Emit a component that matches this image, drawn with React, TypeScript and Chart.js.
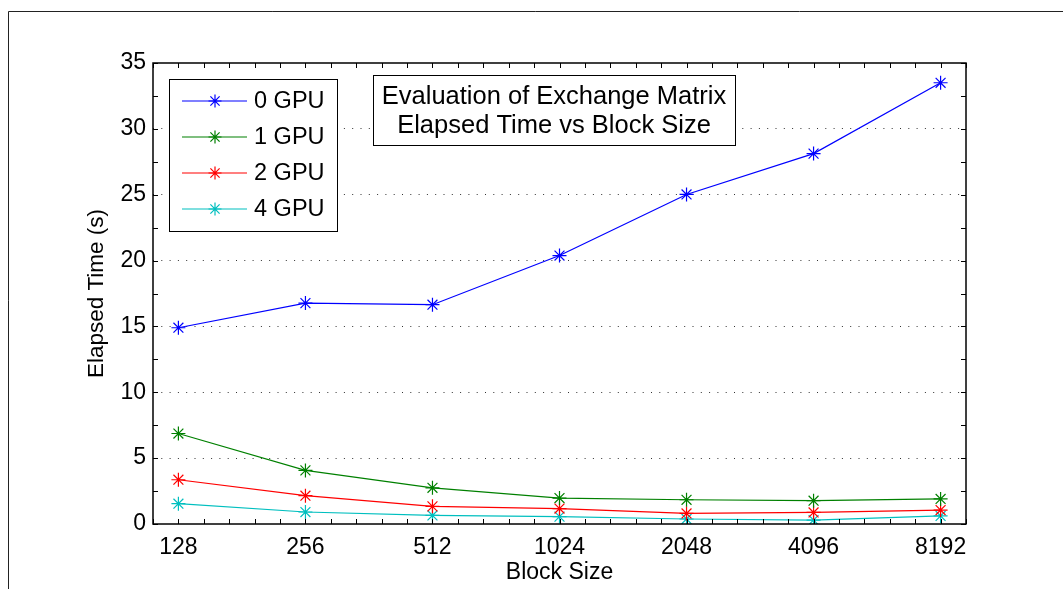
import React, { useEffect, useRef } from 'react';
import { Chart, registerables } from 'chart.js';

Chart.register(...registerables);

// ---- data ----
const blockSizes = ['128', '256', '512', '1024', '2048', '4096', '8192'];
const gpu0 = [14.9, 16.77, 16.65, 20.38, 25.02, 28.12, 33.5];
const gpu1 = [6.87, 4.07, 2.75, 1.97, 1.84, 1.77, 1.9];
const gpu2 = [3.36, 2.15, 1.34, 1.17, 0.8, 0.88, 1.06];
const gpu4 = [1.54, 0.91, 0.65, 0.56, 0.38, 0.3, 0.61];
const seriesNames = ['0 GPU', '1 GPU', '2 GPU', '4 GPU'];
const seriesColors = ['#0000ff', '#008000', '#ff0000', '#00bfbf'];
const yTicks = [0, 5, 10, 15, 20, 25, 30, 35];
const titleLines = ['Evaluation of Exchange Matrix', 'Elapsed Time vs Block Size'];
const xTitle = 'Block Size';
const yTitle = 'Elapsed Time (s)';

const FONT = '"Liberation Sans", Arial, Helvetica, sans-serif';

function drawAsterisk(ctx: CanvasRenderingContext2D, x: number, y: number, r: number) {
  const d = r * Math.SQRT1_2;
  ctx.beginPath();
  ctx.moveTo(x, y - r); ctx.lineTo(x, y + r);
  ctx.moveTo(x - r, y); ctx.lineTo(x + r, y);
  ctx.moveTo(x - d, y - d); ctx.lineTo(x + d, y + d);
  ctx.moveTo(x - d, y + d); ctx.lineTo(x + d, y - d);
  ctx.stroke();
}

const decorPlugin = {
  id: 'decor',
  beforeDraw(chart: any) {
    const ctx = chart.ctx as CanvasRenderingContext2D;
    ctx.save();
    ctx.fillStyle = '#ffffff';
    ctx.fillRect(0, 0, chart.width, chart.height);
    // outer figure frame
    ctx.strokeStyle = '#222';
    ctx.lineWidth = 1;
    ctx.beginPath();
    ctx.moveTo(8.5, chart.height);
    ctx.lineTo(8.5, 11.5);
    ctx.lineTo(chart.width, 11.5);
    ctx.stroke();
    ctx.restore();
  },
  afterDatasetsDraw(chart: any) {
    const ctx = chart.ctx as CanvasRenderingContext2D;
    const { left, right, top, bottom } = chart.chartArea;
    const xs = chart.scales.x;
    const ys = chart.scales.y;
    ctx.save();
    // axes box
    ctx.strokeStyle = '#000';
    ctx.lineWidth = 1.5;
    ctx.strokeRect(left, top, right - left, bottom - top);
    // inward ticks
    ctx.lineWidth = 1;
    ctx.beginPath();
    for (let v = 0; v <= 35.001; v += 2.5) {
      const py = Math.round(ys.getPixelForValue(v)) + 0.5;
      ctx.moveTo(left, py); ctx.lineTo(left + 5, py);
      ctx.moveTo(right, py); ctx.lineTo(right - 5, py);
    }
    for (let k = 0; k <= 32; k++) {
      const v = xs.min + k * 0.2;
      const px = Math.round(xs.getPixelForValue(v)) + 0.5;
      ctx.moveTo(px, bottom); ctx.lineTo(px, bottom - 5);
      ctx.moveTo(px, top); ctx.lineTo(px, top + 5);
    }
    ctx.stroke();

    // legend box
    const lx = left + 16, ly = top + 16, lw = 168, lh = 152;
    ctx.fillStyle = '#fff';
    ctx.fillRect(lx, ly, lw, lh);
    ctx.strokeStyle = '#000';
    ctx.lineWidth = 1;
    ctx.strokeRect(lx + 0.5, ly + 0.5, lw, lh);
    ctx.font = `23.5px ${FONT}`;
    ctx.textBaseline = 'middle';
    ctx.textAlign = 'left';
    seriesNames.forEach((name, i) => {
      const cy = ly + 22 + i * 36;
      ctx.strokeStyle = seriesColors[i];
      ctx.lineWidth = 1.2;
      ctx.beginPath();
      ctx.moveTo(lx + 13, cy); ctx.lineTo(lx + 78, cy);
      ctx.stroke();
      drawAsterisk(ctx, lx + 46, cy, 6.5);
      ctx.fillStyle = '#000';
      ctx.fillText(name, lx + 85, cy + 1);
    });

    // title box
    const tx = left + 220, ty = top + 12, tw = 362, th = 70;
    ctx.fillStyle = '#fff';
    ctx.fillRect(tx, ty, tw, th);
    ctx.strokeStyle = '#000';
    ctx.lineWidth = 1;
    ctx.strokeRect(tx + 0.5, ty + 0.5, tw, th);
    ctx.fillStyle = '#000';
    ctx.font = `25.5px ${FONT}`;
    ctx.textAlign = 'center';
    titleLines.forEach((line, i) => {
      ctx.fillText(line, tx + tw / 2, ty + 22 + i * 28.5);
    });
    ctx.restore();
  },
};

export default function App() {
  const ref = useRef<HTMLCanvasElement | null>(null);
  useEffect(() => {
    if (!ref.current) return;
    const series = [gpu0, gpu1, gpu2, gpu4];
    const chart = new Chart(ref.current, {
      type: 'line',
      data: {
        datasets: series.map((vals, s) => ({
          label: seriesNames[s],
          data: vals.map((v, i) => ({ x: i + 1, y: v })),
          borderColor: seriesColors[s],
          backgroundColor: seriesColors[s],
          borderWidth: 1.2,
          pointStyle: 'star',
          pointRadius: 7,
          pointBorderWidth: 1.2,
          pointBorderColor: seriesColors[s],
          tension: 0,
          fill: false,
        })),
      },
      options: {
        animation: false,
        responsive: false,
        devicePixelRatio: 1,
        layout: { padding: { top: 63, right: 97, left: 0, bottom: 0 } },
        plugins: { legend: { display: false }, tooltip: { enabled: false }, title: { display: false } },
        scales: {
          x: {
            type: 'linear',
            min: 0.8,
            max: 7.2,
            afterBuildTicks: (scale: any) => {
              scale.ticks = blockSizes.map((_, i) => ({ value: i + 1 }));
            },
            afterFit: (scale: any) => { scale.height = 65; },
            ticks: {
              autoSkip: false,
              maxRotation: 0,
              padding: 10,
              color: '#000',
              font: { family: FONT, size: 23 },
              callback: (v: any) => blockSizes[Math.round(v) - 1] ?? '',
            },
            grid: { display: false, drawTicks: false },
            border: { display: false },
            title: {
              display: true,
              text: xTitle,
              color: '#000',
              font: { family: FONT, size: 23 },
              padding: { top: 0, bottom: 3 },
            },
          },
          y: {
            type: 'linear',
            min: 0,
            max: 35,
            afterBuildTicks: (scale: any) => {
              scale.ticks = yTicks.map((v) => ({ value: v }));
            },
            afterFit: (scale: any) => { scale.width = 153; },
            ticks: {
              padding: 7,
              color: '#000',
              font: { family: FONT, size: 23 },
            },
            grid: {
              drawTicks: false,
              lineWidth: 1,
              color: (c: any) => (c.tick && (c.tick.value === 0 || c.tick.value === 35) ? 'rgba(0,0,0,0)' : '#333'),
            },
            border: { display: false, dash: [1, 7.3] },
            title: {
              display: true,
              text: yTitle,
              color: '#000',
              font: { family: FONT, size: 22.5 },
              padding: { top: 83, bottom: 0 },
            },
          },
        },
      },
      plugins: [decorPlugin],
    } as any);
    return () => chart.destroy();
  }, []);
  return (
    <div style={{ position: 'absolute', left: 0, top: 0, width: 1063, height: 589 }}>
      <canvas ref={ref} width={1063} height={589} style={{ width: 1063, height: 589, display: 'block' }} />
    </div>
  );
}
